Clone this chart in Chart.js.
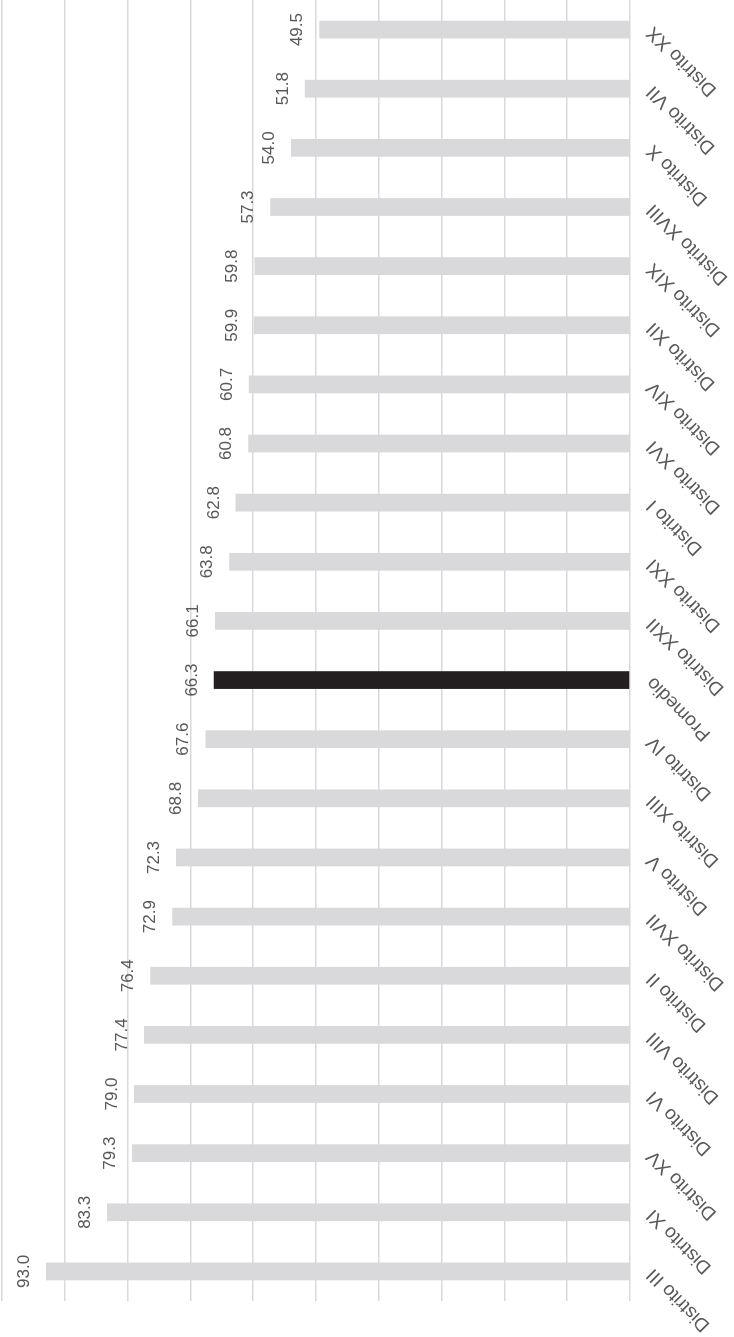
<!DOCTYPE html>
<html>
<head>
<meta charset="utf-8">
<script src="https://cdn.jsdelivr.net/npm/chart.js@4"></script>
<style>
  html, body { margin: 0; padding: 0; background: #fff; overflow: hidden; }
  /* chart is drawn as a normal column chart, then turned a quarter turn */
  #wrap {
    position: absolute; left: 0; top: 0;
    width: 1337px; height: 734px;
    transform-origin: 0 0;
    transform: translate(0, 1337px) rotate(-90deg);
  }
</style>
</head>
<body>
<div id="wrap"><canvas id="myChart" width="1337" height="734"></canvas></div>
<script>
var distritos = ['Distrito III', 'Distrito XI', 'Distrito XV', 'Distrito VI', 'Distrito VIII',
  'Distrito II', 'Distrito XVII', 'Distrito V', 'Distrito XIII', 'Distrito IV', 'Promedio',
  'Distrito XXII', 'Distrito XXI', 'Distrito I', 'Distrito XVI', 'Distrito XIV', 'Distrito XII',
  'Distrito XIX', 'Distrito XVIII', 'Distrito X', 'Distrito VII', 'Distrito XX'];
var valores = [93.0, 83.3, 79.3, 79.0, 77.4, 76.4, 72.9, 72.3, 68.8, 67.6, 66.3,
  66.1, 63.8, 62.8, 60.8, 60.7, 59.9, 59.8, 57.3, 54.0, 51.8, 49.5];

var colores = distritos.map(function (d) {
  return d === 'Promedio' ? '#231f20' : '#d9d9db';
});

var valueLabels = {
  id: 'valueLabels',
  afterDatasetsDraw: function (chart) {
    var ctx = chart.ctx;
    var meta = chart.getDatasetMeta(0);
    ctx.save();
    ctx.font = '17px "Liberation Sans", Arial, sans-serif';
    ctx.fillStyle = '#595959';
    ctx.textAlign = 'center';
    ctx.textBaseline = 'alphabetic';
    meta.data.forEach(function (bar, i) {
      ctx.fillText(valores[i].toFixed(1), bar.x, bar.y - 17);
    });
    ctx.restore();
  }
};

var ctx = document.getElementById('myChart');

new Chart(ctx, {
  type: 'bar',
  data: {
    labels: distritos,
    datasets: [{
      data: valores,
      backgroundColor: colores,
      borderWidth: 0,
      barPercentage: 0.3,
      categoryPercentage: 1
    }]
  },
  options: {
    responsive: false,
    animation: false,
    layout: { padding: { top: 2, left: 36, right: 0, bottom: 0 } },
    plugins: {
      legend: { display: false },
      tooltip: { enabled: false }
    },
    scales: {
      x: {
        grid: { display: false, drawTicks: false },
        border: { display: false },
        ticks: {
          autoSkip: false,
          minRotation: 45,
          maxRotation: 45,
          padding: 12,
          color: '#595959',
          font: { family: '"Liberation Sans", Arial, sans-serif', size: 19 }
        },
        afterFit: function (s) {
          s.height = 104;
          s.paddingLeft = 0;
          s.paddingRight = 0;
        }
      },
      y: {
        min: 0,
        max: 100,
        grid: { color: '#d9d9d9', lineWidth: 1.5, drawTicks: false },
        border: { display: false },
        ticks: { stepSize: 10, display: false }
      }
    }
  },
  plugins: [valueLabels]
});
</script>
</body>
</html>
